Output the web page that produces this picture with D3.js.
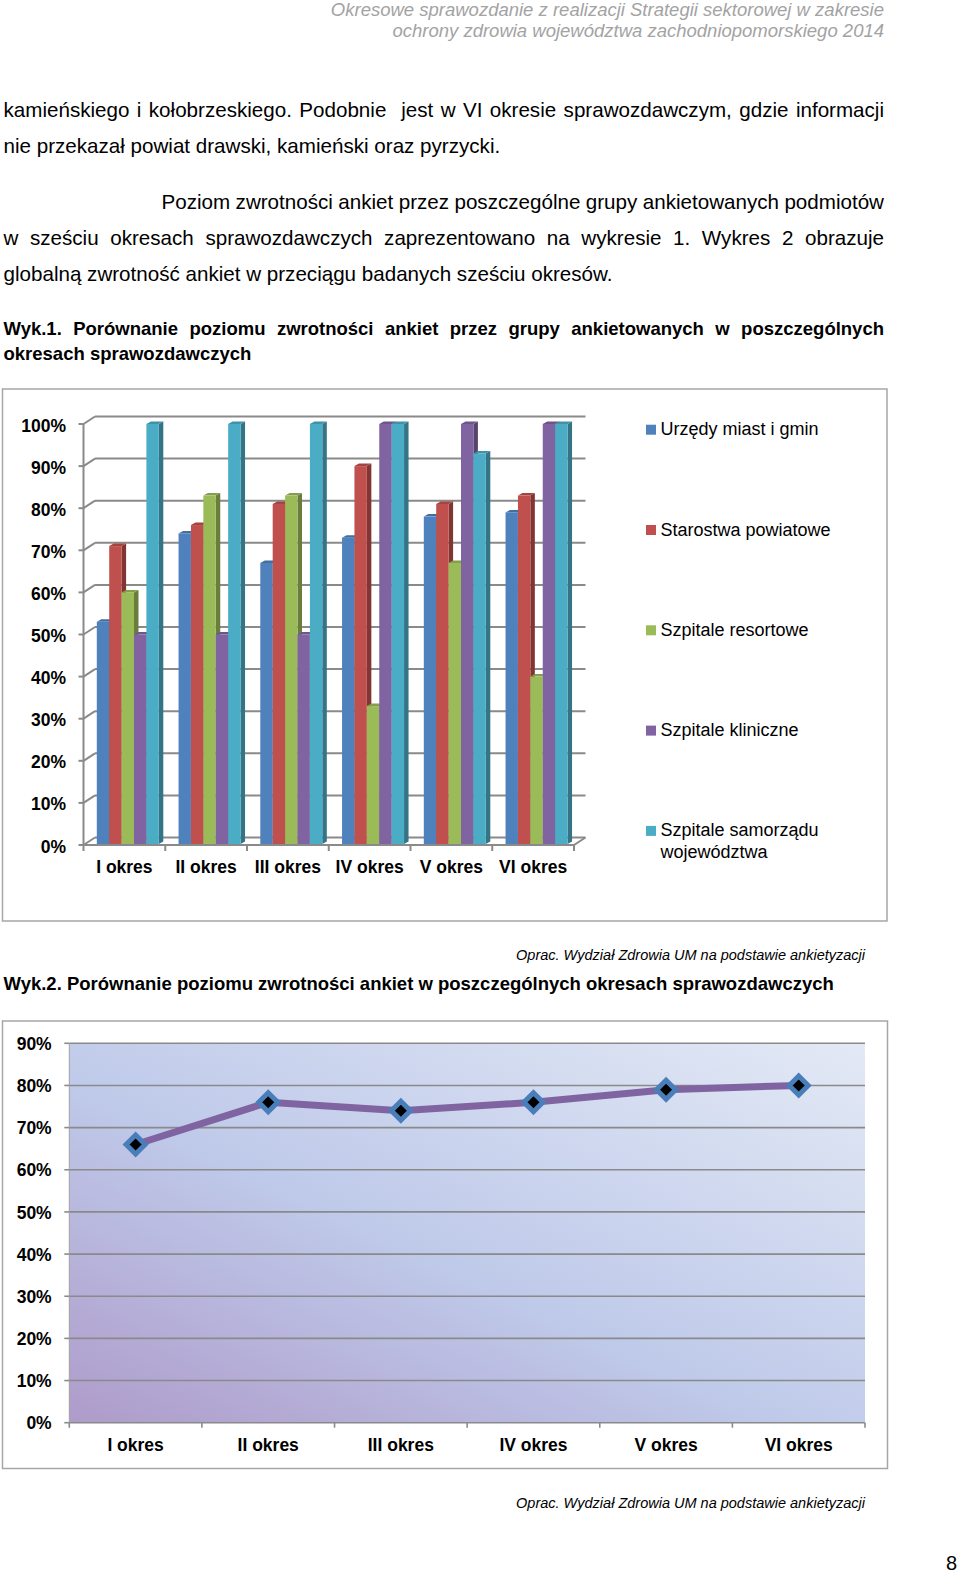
<!DOCTYPE html>
<html>
<head>
<meta charset="utf-8">
<script src="https://cdn.jsdelivr.net/npm/d3@7"></script>
<style>
  html, body { margin: 0; padding: 0; background: #fff; }
  svg { display: block; font-family: "Liberation Sans", Arial, sans-serif; }
</style>
</head>
<body>
<svg id="page" width="960" height="1581"></svg>
<script>
// ---- data ----
const periods = ["I okres", "II okres", "III okres", "IV okres", "V okres", "VI okres"];
const seriesNames = ["Urzędy miast i gmin", "Starostwa powiatowe", "Szpitale resortowe",
  "Szpitale kliniczne", "Szpitale samorządu województwa"];
const urzedy = [53, 74, 67, 73, 78, 79];
const starostwa = [71, 76, 81, 90, 81, 83];
const resortowe = [60, 83, 83, 33, 67, 40];
const kliniczne = [50, 50, 50, 100, 100, 100];
const samorzad = [100, 100, 100, 100, 93, 100];
const seriesColors = ["#4f81bd", "#c0504d", "#9bbb59", "#8064a2", "#4bacc6"];
const barTicks = [0, 10, 20, 30, 40, 50, 60, 70, 80, 90, 100];

const globalRate = [66, 76, 74, 76, 79, 80];
const lineTicks = [0, 10, 20, 30, 40, 50, 60, 70, 80, 90];

const svg = d3.select("#page");
const gridColor = "#8a8a8a";
const frameColor = "#a6a6a6";

// lay out one justified line word by word
function justifyLine(text, x0, x1, y, size, weight) {
  const words = text.split(" ");
  const t = svg.append("g").selectAll("text").data(words).join("text")
    .attr("y", y)
    .attr("font-size", size)
    .attr("font-weight", weight || "normal")
    .attr("fill", "#000")
    .text(d => d);
  const widths = t.nodes().map(n => n.getComputedTextLength());
  const gap = (x1 - x0 - d3.sum(widths)) / (words.length - 1);
  let x = x0;
  t.attr("x", (d, i) => { const xi = x; x += widths[i] + gap; return xi; });
}

function plainLine(text, x, y, size, weight, anchor, style, fill) {
  svg.append("text")
    .attr("x", x).attr("y", y)
    .attr("font-size", size)
    .attr("font-weight", weight || "normal")
    .attr("font-style", style || "normal")
    .attr("text-anchor", anchor || "start")
    .attr("fill", fill || "#000")
    .text(text);
}

// ---- page text ----
plainLine("Okresowe sprawozdanie z realizacji Strategii sektorowej w zakresie", 884, 16, 18.5, "normal", "end", "italic", "#a3a3a3");
plainLine("ochrony zdrowia województwa zachodniopomorskiego 2014", 884, 36.5, 18.5, "normal", "end", "italic", "#a3a3a3");

const bodySize = 20.6;
justifyLine("kamieńskiego i kołobrzeskiego. Podobnie  jest w VI okresie sprawozdawczym, gdzie informacji", 3.5, 884, 117, bodySize);
plainLine("nie przekazał powiat drawski, kamieński oraz pyrzycki.", 3.5, 153, bodySize);
justifyLine("Poziom zwrotności ankiet przez poszczególne grupy ankietowanych podmiotów", 161.5, 884, 209, bodySize);
justifyLine("w sześciu okresach sprawozdawczych zaprezentowano na wykresie 1. Wykres 2 obrazuje", 3.5, 884, 245, bodySize);
plainLine("globalną zwrotność ankiet w przeciągu badanych sześciu okresów.", 3.5, 281, bodySize);

justifyLine("Wyk.1. Porównanie poziomu zwrotności ankiet przez grupy ankietowanych w poszczególnych", 3.5, 884, 335, 18.5, "bold");
plainLine("okresach sprawozdawczych", 3.5, 360, 18.5, "bold");

// ---- chart 1: 3D clustered columns ----
svg.append("rect")
  .attr("x", 2.5).attr("y", 389).attr("width", 884.5).attr("height", 532)
  .attr("fill", "#fff").attr("stroke", frameColor).attr("stroke-width", 1.5);

const dx = 11.5, dy = -7.5;          // wall depth
const bdx = 4.5, bdy = -2.5;         // bar depth
const x1 = d3.scaleBand().domain(periods).range([83.5, 574]);
const y1 = d3.scaleLinear().domain([0, 100]).range([845, 424]);
const xs = d3.scaleBand().domain(seriesNames).range([0, 62]);
const [ax0, ax1] = x1.range();

const c1 = svg.append("g");
// back wall gridlines
c1.selectAll(".bg").data(barTicks).join("line")
  .attr("x1", ax0 + dx).attr("x2", ax1 + dx)
  .attr("y1", d => y1(d) + dy).attr("y2", d => y1(d) + dy)
  .attr("stroke", gridColor).attr("stroke-width", 2);
// side wall diagonals
c1.selectAll(".sd").data(barTicks).join("line")
  .attr("x1", ax0).attr("x2", ax0 + dx)
  .attr("y1", d => y1(d)).attr("y2", d => y1(d) + dy)
  .attr("stroke", gridColor).attr("stroke-width", 2);
// y tick marks
c1.selectAll(".yt").data(barTicks).join("line")
  .attr("x1", ax0 - 5).attr("x2", ax0)
  .attr("y1", d => y1(d)).attr("y2", d => y1(d))
  .attr("stroke", gridColor).attr("stroke-width", 2);
// front axis line and floor
c1.append("line").attr("x1", ax0).attr("x2", ax0).attr("y1", y1(0)).attr("y2", y1(100))
  .attr("stroke", gridColor).attr("stroke-width", 2);
c1.append("path")
  .attr("d", `M${ax0},${y1(0)}H${ax1}L${ax1 + dx},${y1(0) + dy}`)
  .attr("fill", "none").attr("stroke", gridColor).attr("stroke-width", 2);
// x tick marks
c1.selectAll(".xt").data(periods.map(p => x1(p)).concat([ax1])).join("line")
  .attr("x1", d => d).attr("x2", d => d)
  .attr("y1", y1(0)).attr("y2", y1(0) + 6)
  .attr("stroke", gridColor).attr("stroke-width", 2);

// bars
const seriesValues = [urzedy, starostwa, resortowe, kliniczne, samorzad];
const bw = xs.bandwidth();
periods.forEach((p, i) => {
  seriesNames.forEach((s, k) => {
    const v = seriesValues[k][i];
    const bx = x1(p) + 13.3 + xs(s);
    const top = y1(v), bot = y1(0) - 1;
    const col = d3.color(seriesColors[k]);
    const g = c1.append("g");
    g.append("path")   // side face
      .attr("d", `M${bx + bw},${top}L${bx + bw + bdx},${top + bdy}L${bx + bw + bdx},${bot + bdy}L${bx + bw},${bot}Z`)
      .attr("fill", col.darker(1.1));
    g.append("path")   // top face
      .attr("d", `M${bx},${top}L${bx + bw},${top}L${bx + bw + bdx},${top + bdy}L${bx + bdx},${top + bdy}Z`)
      .attr("fill", col.darker(0.45));
    g.append("rect")   // front face
      .attr("x", bx).attr("y", top).attr("width", bw).attr("height", bot - top)
      .attr("fill", col);
  });
});

// axis labels
c1.selectAll(".yl").data(barTicks).join("text")
  .attr("x", 66).attr("y", d => y1(d) + 7.5)
  .attr("text-anchor", "end").attr("font-size", 17.5).attr("font-weight", "bold")
  .text(d => d + "%");
c1.selectAll(".xl").data(periods).join("text")
  .attr("x", d => x1(d) + x1.bandwidth() / 2).attr("y", 873)
  .attr("text-anchor", "middle").attr("font-size", 17.5).attr("font-weight", "bold")
  .text(d => d);

// legend
const leg = c1.selectAll(".lg").data(seriesNames).join("g")
  .attr("transform", (d, i) => `translate(646,${429.7 + 100.3 * i})`);
leg.append("rect").attr("x", 0).attr("y", -5).attr("width", 10).attr("height", 10)
  .attr("fill", (d, i) => seriesColors[i]);
leg.append("text").attr("x", 14.5).attr("y", 5.5).attr("font-size", 18)
  .each(function (d) {
    const t = d3.select(this);
    if (d === "Szpitale samorządu województwa") {
      t.append("tspan").attr("x", 14.5).text("Szpitale samorządu");
      t.append("tspan").attr("x", 14.5).attr("dy", 22).text("województwa");
    } else {
      t.text(d);
    }
  });

plainLine("Oprac. Wydział Zdrowia UM na podstawie ankietyzacji", 865, 960, 14.5, "normal", "end", "italic");

// ---- chart 2: line ----
plainLine("Wyk.2. Porównanie poziomu zwrotności ankiet w poszczególnych okresach sprawozdawczych", 3.5, 990, 18.5, "bold");

svg.append("rect")
  .attr("x", 2.5).attr("y", 1021).attr("width", 885).attr("height", 447.5)
  .attr("fill", "#fff").attr("stroke", frameColor).attr("stroke-width", 1.5);

const defs = svg.append("defs");
const grad = defs.append("linearGradient").attr("id", "plotFill")
  .attr("x1", 0).attr("y1", 1).attr("x2", 1).attr("y2", 0);
grad.append("stop").attr("offset", 0).attr("stop-color", "#ae9bca");
grad.append("stop").attr("offset", 0.45).attr("stop-color", "#bfcaea");
grad.append("stop").attr("offset", 1).attr("stop-color", "#e3e9f5");

const x2 = d3.scaleBand().domain(periods).range([69.3, 865]);
const y2 = d3.scaleLinear().domain([0, 90]).range([1422.7, 1043.3]);
const c2 = svg.append("g");
c2.append("rect")
  .attr("x", x2.range()[0]).attr("y", y2(90))
  .attr("width", x2.range()[1] - x2.range()[0]).attr("height", y2(0) - y2(90))
  .attr("fill", "url(#plotFill)");
c2.selectAll(".g2").data(lineTicks).join("line")
  .attr("x1", x2.range()[0]).attr("x2", x2.range()[1])
  .attr("y1", d => y2(d)).attr("y2", d => y2(d))
  .attr("stroke", gridColor).attr("stroke-width", 1.6);
c2.append("line").attr("x1", x2.range()[0]).attr("x2", x2.range()[0])
  .attr("y1", y2(0)).attr("y2", y2(90)).attr("stroke", "#a0a0a0").attr("stroke-width", 1);
c2.selectAll(".yt2").data(lineTicks).join("line")
  .attr("x1", x2.range()[0] - 5).attr("x2", x2.range()[0])
  .attr("y1", d => y2(d)).attr("y2", d => y2(d))
  .attr("stroke", gridColor).attr("stroke-width", 1.6);
c2.selectAll(".xt2").data(periods.map(p => x2(p)).concat([x2.range()[1]])).join("line")
  .attr("x1", d => d).attr("x2", d => d)
  .attr("y1", y2(0)).attr("y2", y2(0) + 5)
  .attr("stroke", gridColor).attr("stroke-width", 1.6);

const cx2 = p => x2(p) + x2.bandwidth() / 2;
c2.append("path")
  .datum(globalRate)
  .attr("d", d3.line().x((d, i) => cx2(periods[i])).y(d => y2(d)))
  .attr("fill", "none").attr("stroke", "#8064a2").attr("stroke-width", 7)
  .attr("stroke-linejoin", "round");
c2.selectAll(".mk").data(globalRate).join("path")
  .attr("transform", (d, i) => `translate(${cx2(periods[i])},${y2(d)})`)
  .attr("d", "M0,-9.5L9.5,0L0,9.5L-9.5,0Z")
  .attr("fill", "#000").attr("stroke", "#4a7ebb").attr("stroke-width", 5);

c2.selectAll(".yl2").data(lineTicks).join("text")
  .attr("x", 51.7).attr("y", d => y2(d) + 6.7)
  .attr("text-anchor", "end").attr("font-size", 17.5).attr("font-weight", "bold")
  .text(d => d + "%");
c2.selectAll(".xl2").data(periods).join("text")
  .attr("x", d => cx2(d)).attr("y", 1451)
  .attr("text-anchor", "middle").attr("font-size", 17.5).attr("font-weight", "bold")
  .text(d => d);

plainLine("Oprac. Wydział Zdrowia UM na podstawie ankietyzacji", 865, 1508, 14.5, "normal", "end", "italic");
plainLine("8", 957, 1570, 20, "normal", "end");
</script>
</body>
</html>
